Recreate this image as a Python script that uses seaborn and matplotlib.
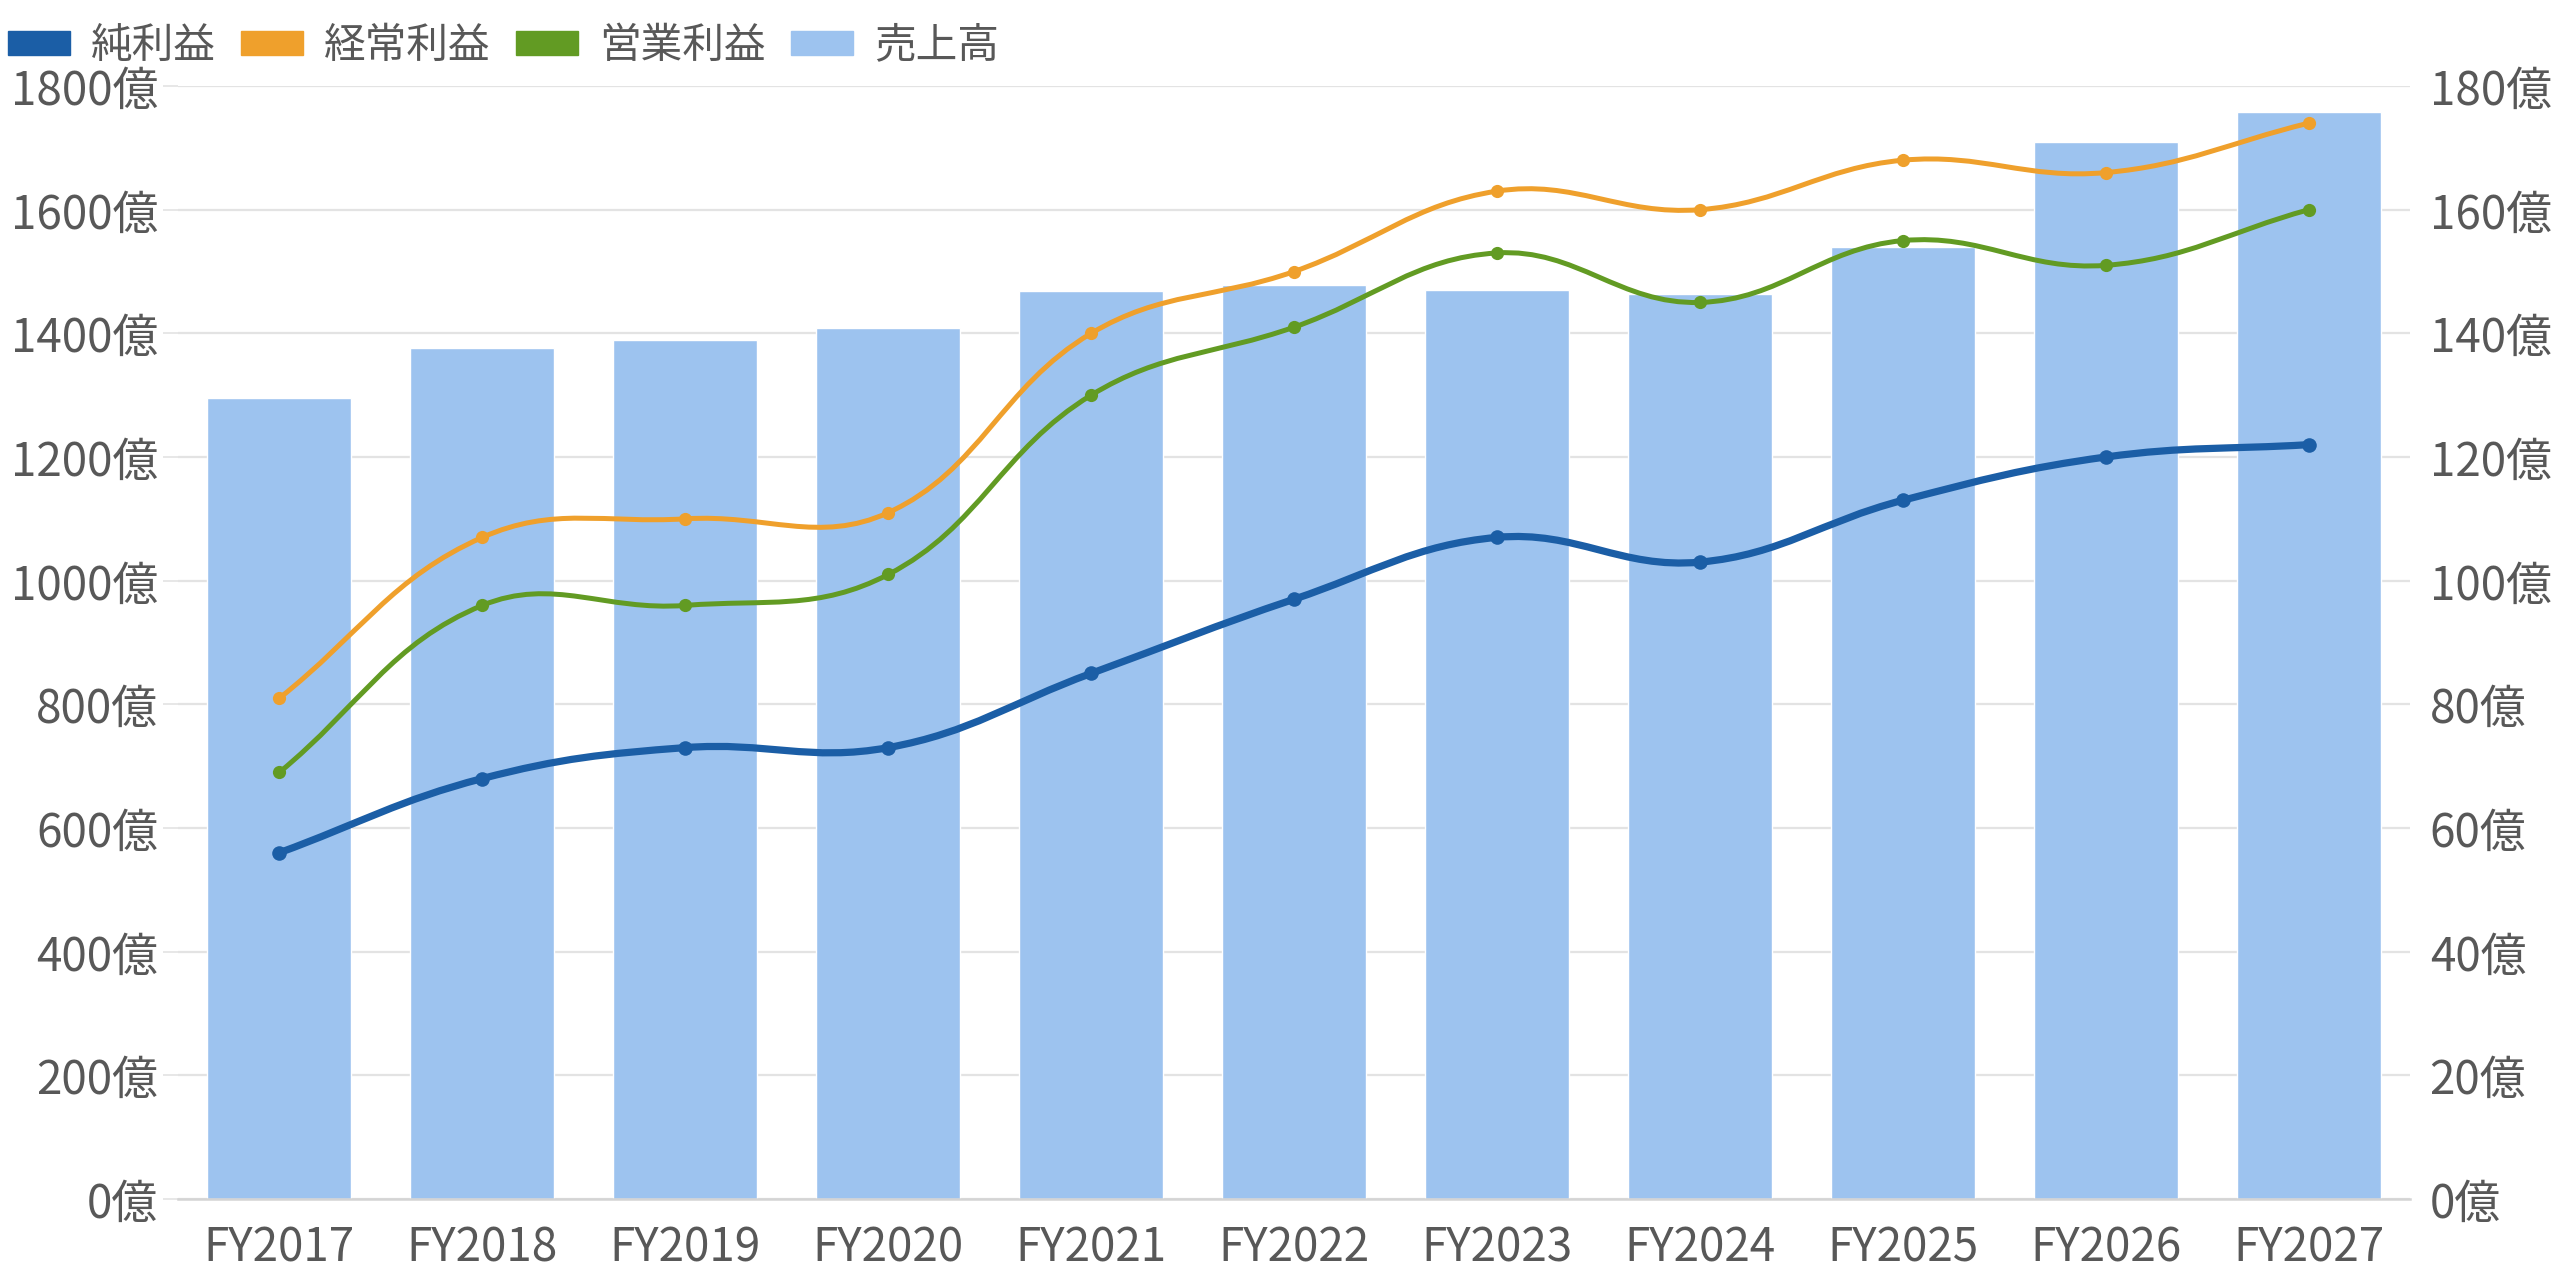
import numpy as np
import pandas as pd
import matplotlib
matplotlib.use("Agg")
import matplotlib.pyplot as plt
from matplotlib.patches import Patch, PathPatch
from matplotlib.path import Path
from matplotlib.ticker import FuncFormatter, MultipleLocator
import seaborn as sns

# data (億円)
years = ["FY2017", "FY2018", "FY2019", "FY2020", "FY2021", "FY2022",
         "FY2023", "FY2024", "FY2025", "FY2026", "FY2027"]
sales = [1295, 1377, 1390, 1408, 1468, 1478, 1470, 1464, 1540, 1710, 1758]
net_income = [56, 68, 73, 73, 85, 97, 107, 103, 113, 120, 122]
ordinary_income = [81, 107, 110, 111, 140, 150, 163, 160, 168, 166, 174]
operating_income = [69, 96, 96, 101, 130, 141, 153, 145, 155, 151, 160]

COL_NET = "#1b5ea6"
COL_ORD = "#efa02c"
COL_OPE = "#629b23"
COL_BAR = "#9dc3ef"
TXT = "#585858"
GRID = "#e3e3e3"


def spline_path(ax, xs, ys, tension=0.4):
    # Chart.js style smooth curve through the points, computed in pixel space
    pts = ax.transData.transform(np.column_stack([xs, ys]))
    n = len(pts)
    cps = []
    for i in range(n):
        prev = pts[max(i - 1, 0)]
        cur = pts[i]
        nxt = pts[min(i + 1, n - 1)]
        d01 = np.hypot(*(cur - prev))
        d12 = np.hypot(*(nxt - cur))
        s = d01 + d12
        fa = tension * d01 / s if s else 0
        fb = tension * d12 / s if s else 0
        cps.append((cur - fa * (nxt - prev), cur + fb * (nxt - prev)))
    verts = [pts[0]]
    codes = [Path.MOVETO]
    for i in range(1, n):
        verts += [cps[i - 1][1], cps[i][0], pts[i]]
        codes += [Path.CURVE4] * 3
    verts = ax.transData.inverted().transform(np.array(verts))
    return Path(verts, codes)


sns.set_theme(style="white")
plt.rcParams['font.family'] = ['Noto Sans CJK JP', 'DejaVu Sans']

fig = plt.figure(figsize=(25.6, 12.8), dpi=100)
ax = fig.add_axes([0.0695, 0.0633, 0.872, 0.8695])

df = pd.DataFrame({"year": years, "sales": sales})
sns.barplot(data=df, x="year", y="sales", ax=ax, color=COL_BAR,
            saturation=1, width=0.71, zorder=2)
ax.set_xlim(-0.5, len(years) - 0.5)
ax.set_ylim(0, 1800)
ax.yaxis.set_major_locator(MultipleLocator(200))
ax.yaxis.set_major_formatter(FuncFormatter(lambda v, p: f"{int(v)}億"))
ax.grid(axis="y", color=GRID, linewidth=1.6, zorder=0)
ax.set_axisbelow(True)
ax.set_xlabel("")
ax.set_ylabel("")
for sp in ax.spines.values():
    sp.set_visible(False)
ax.spines["bottom"].set_visible(True)
ax.spines["bottom"].set_color("#d4d4d4")
ax.spines["bottom"].set_linewidth(1.8)
ax.tick_params(axis="both", labelsize=33, colors=TXT)
ax.tick_params(axis="x", length=0, pad=18)
ax.tick_params(axis="y", length=11, width=1.2, color=GRID, pad=3)

ax2 = ax.twinx()
ax2.set_ylim(0, 180)
ax2.yaxis.set_major_locator(MultipleLocator(20))
ax2.yaxis.set_major_formatter(FuncFormatter(lambda v, p: f"{int(v)}億"))
ax2.tick_params(axis="y", length=0, labelsize=33, colors=TXT, pad=14)
ax2.grid(False)
for sp in ax2.spines.values():
    sp.set_visible(False)

xs = np.arange(len(years))
series = [
    (net_income, COL_NET, 5.2, 10.5),
    (operating_income, COL_OPE, 3.6, 9.5),
    (ordinary_income, COL_ORD, 3.6, 9.5),
]
for vals, col, lw, ms in series:
    path = spline_path(ax2, xs, vals)
    ax2.add_patch(PathPatch(path, facecolor="none", edgecolor=col,
                            linewidth=lw, capstyle="round", zorder=3))
    sns.scatterplot(x=xs, y=vals, ax=ax2, color=col, s=ms ** 2,
                    edgecolor=col, linewidth=0, zorder=4, legend=False)

handles = [Patch(facecolor=COL_NET, edgecolor=COL_NET),
           Patch(facecolor=COL_ORD, edgecolor=COL_ORD),
           Patch(facecolor=COL_OPE, edgecolor=COL_OPE),
           Patch(facecolor=COL_BAR, edgecolor=COL_BAR)]
labels = ["純利益", "経常利益", "営業利益", "売上高"]
leg = fig.legend(handles, labels, loc="center left", bbox_to_anchor=(0.003, 0.964),
                 ncol=4, frameon=False, fontsize=30, handlelength=1.5,
                 handleheight=0.5, handletextpad=0.5, columnspacing=0.6,
                 borderpad=0, borderaxespad=0)
for t in leg.get_texts():
    t.set_color(TXT)

fig.savefig("out.png", dpi=100)
